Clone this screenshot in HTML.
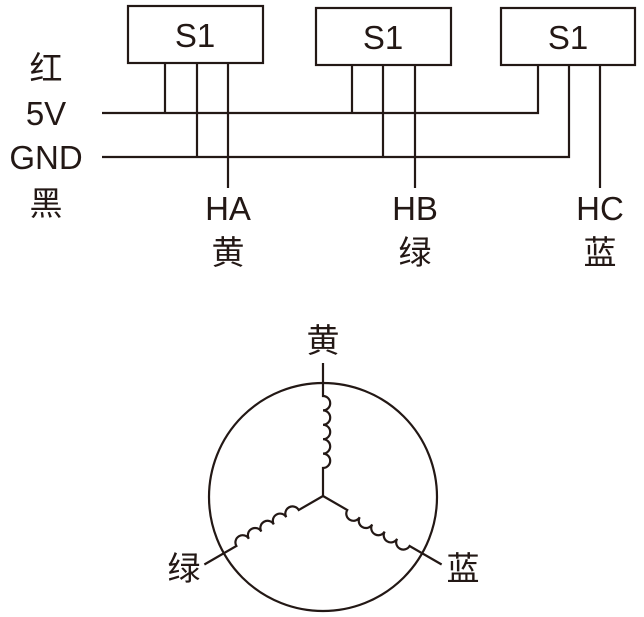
<!DOCTYPE html>
<html><head><meta charset="utf-8"><style>
html,body{margin:0;padding:0;background:#fff}
svg{display:block}
text{font-family:"Liberation Sans","Noto Sans CJK SC",sans-serif;fill:#231815;font-size:33px}
</style></head><body>
<svg width="644" height="617" viewBox="0 0 644 617" xmlns="http://www.w3.org/2000/svg">
<g stroke="#231815" stroke-width="2.2" fill="none">
<rect x="128" y="6" width="135" height="57"/>
<rect x="316" y="8" width="135" height="57"/>
<rect x="501" y="8" width="134" height="57"/>
<path d="M102 113H538V65M102 157H569V65"/>
<path d="M165 63V113M197 63V157M228 63V188"/>
<path d="M352 65V113M383 65V157M415 65V188"/>
<path d="M600 65V188"/>
<circle cx="323" cy="497" r="114"/>
<g transform="translate(323,496)">
<path transform="rotate(-90)" d="M0 0H28 a7.2 7.2 0 0 0 14.4 0 a7.2 7.2 0 0 0 14.4 0 a7.2 7.2 0 0 0 14.4 0 a7.2 7.2 0 0 0 14.4 0 a7.2 7.2 0 0 0 14.4 0 H133"/>
<path transform="rotate(150)" d="M0 0H28 a7.2 7.2 0 0 0 14.4 0 a7.2 7.2 0 0 0 14.4 0 a7.2 7.2 0 0 0 14.4 0 a7.2 7.2 0 0 0 14.4 0 a7.2 7.2 0 0 0 14.4 0 H137"/>
<path transform="rotate(30)" d="M0 0H28 a7.2 7.2 0 0 0 14.4 0 a7.2 7.2 0 0 0 14.4 0 a7.2 7.2 0 0 0 14.4 0 a7.2 7.2 0 0 0 14.4 0 a7.2 7.2 0 0 0 14.4 0 H137"/>
</g>
</g>
<g text-anchor="middle">
<text x="195" y="47">S1</text>
<text x="383" y="49">S1</text>
<text x="568" y="49">S1</text>
<text x="46" y="80">红</text>
<text x="46" y="125">5V</text>
<text x="46" y="169">GND</text>
<text x="46" y="215">黑</text>
<text x="228" y="220">HA</text>
<text x="228" y="264">黄</text>
<text x="415" y="220">HB</text>
<text x="415" y="264">绿</text>
<text x="600" y="220">HC</text>
<text x="600" y="264">蓝</text>
<text x="323" y="352">黄</text>
<text x="184" y="580">绿</text>
<text x="463" y="580">蓝</text>
</g>
</svg>
</body></html>
